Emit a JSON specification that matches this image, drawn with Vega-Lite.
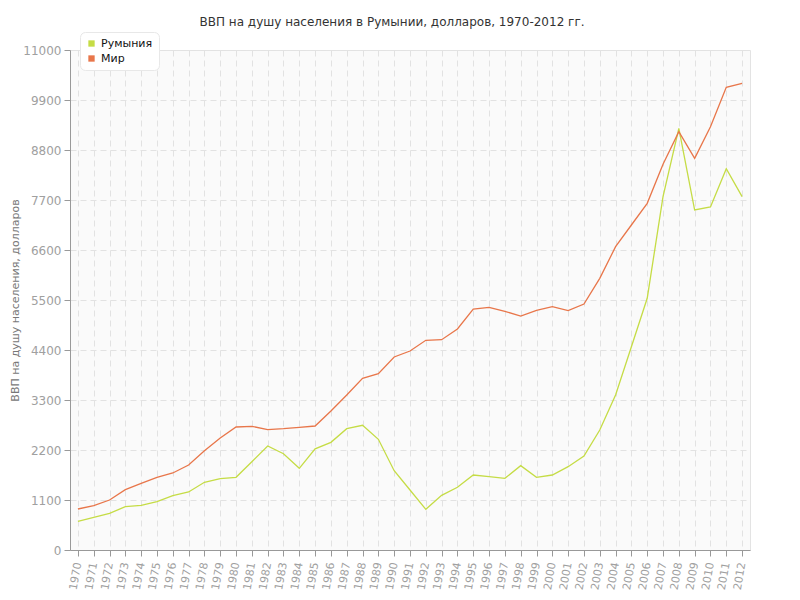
{
  "$schema": "https://vega.github.io/schema/vega-lite/v6.json",
  "autosize": "none",
  "width": 680,
  "height": 500,
  "padding": {"left": 70, "top": 50, "right": 50, "bottom": 50},
  "background": "white",
  "title": {
    "text": "ВВП на душу населения в Румынии, долларов, 1970-2012 гг.",
    "font": "DejaVu Sans",
    "fontSize": 12,
    "fontWeight": "normal",
    "color": "#333333",
    "offset": 3,
    "dx": -18
  },
  "config": {
    "view": {"fill": "#fafafa", "stroke": "#e3e3e3"},
    "font": "DejaVu Sans"
  },
  "data": {
    "values": [
      {"year": 1970, "country": "Румыния", "gdp": 631},
      {"year": 1971, "country": "Румыния", "gdp": 719},
      {"year": 1972, "country": "Румыния", "gdp": 807},
      {"year": 1973, "country": "Румыния", "gdp": 953},
      {"year": 1974, "country": "Румыния", "gdp": 983},
      {"year": 1975, "country": "Румыния", "gdp": 1063},
      {"year": 1976, "country": "Румыния", "gdp": 1195},
      {"year": 1977, "country": "Румыния", "gdp": 1276},
      {"year": 1978, "country": "Румыния", "gdp": 1489},
      {"year": 1979, "country": "Румыния", "gdp": 1569},
      {"year": 1980, "country": "Румыния", "gdp": 1599},
      {"year": 1981, "country": "Румыния", "gdp": 1943},
      {"year": 1982, "country": "Румыния", "gdp": 2288},
      {"year": 1983, "country": "Румыния", "gdp": 2119},
      {"year": 1984, "country": "Румыния", "gdp": 1797},
      {"year": 1985, "country": "Румыния", "gdp": 2225},
      {"year": 1986, "country": "Румыния", "gdp": 2369},
      {"year": 1987, "country": "Румыния", "gdp": 2669},
      {"year": 1988, "country": "Румыния", "gdp": 2743},
      {"year": 1989, "country": "Румыния", "gdp": 2435},
      {"year": 1990, "country": "Румыния", "gdp": 1745},
      {"year": 1991, "country": "Румыния", "gdp": 1320},
      {"year": 1992, "country": "Румыния", "gdp": 895},
      {"year": 1993, "country": "Румыния", "gdp": 1203},
      {"year": 1994, "country": "Румыния", "gdp": 1379},
      {"year": 1995, "country": "Румыния", "gdp": 1650},
      {"year": 1996, "country": "Румыния", "gdp": 1613},
      {"year": 1997, "country": "Румыния", "gdp": 1577},
      {"year": 1998, "country": "Румыния", "gdp": 1855},
      {"year": 1999, "country": "Румыния", "gdp": 1599},
      {"year": 2000, "country": "Румыния", "gdp": 1650},
      {"year": 2001, "country": "Румыния", "gdp": 1833},
      {"year": 2002, "country": "Румыния", "gdp": 2068},
      {"year": 2003, "country": "Румыния", "gdp": 2640},
      {"year": 2004, "country": "Румыния", "gdp": 3410},
      {"year": 2005, "country": "Румыния", "gdp": 4473},
      {"year": 2006, "country": "Румыния", "gdp": 5537},
      {"year": 2007, "country": "Румыния", "gdp": 7773},
      {"year": 2008, "country": "Румыния", "gdp": 9277},
      {"year": 2009, "country": "Румыния", "gdp": 7480},
      {"year": 2010, "country": "Румыния", "gdp": 7546},
      {"year": 2011, "country": "Румыния", "gdp": 8389},
      {"year": 2012, "country": "Румыния", "gdp": 7773},
      {"year": 1970, "country": "Мир", "gdp": 902},
      {"year": 1971, "country": "Мир", "gdp": 975},
      {"year": 1972, "country": "Мир", "gdp": 1100},
      {"year": 1973, "country": "Мир", "gdp": 1327},
      {"year": 1974, "country": "Мир", "gdp": 1467},
      {"year": 1975, "country": "Мир", "gdp": 1599},
      {"year": 1976, "country": "Мир", "gdp": 1694},
      {"year": 1977, "country": "Мир", "gdp": 1870},
      {"year": 1978, "country": "Мир", "gdp": 2185},
      {"year": 1979, "country": "Мир", "gdp": 2464},
      {"year": 1980, "country": "Мир", "gdp": 2706},
      {"year": 1981, "country": "Мир", "gdp": 2721},
      {"year": 1982, "country": "Мир", "gdp": 2647},
      {"year": 1983, "country": "Мир", "gdp": 2669},
      {"year": 1984, "country": "Мир", "gdp": 2699},
      {"year": 1985, "country": "Мир", "gdp": 2728},
      {"year": 1986, "country": "Мир", "gdp": 3058},
      {"year": 1987, "country": "Мир", "gdp": 3410},
      {"year": 1988, "country": "Мир", "gdp": 3777},
      {"year": 1989, "country": "Мир", "gdp": 3879},
      {"year": 1990, "country": "Мир", "gdp": 4246},
      {"year": 1991, "country": "Мир", "gdp": 4378},
      {"year": 1992, "country": "Мир", "gdp": 4613},
      {"year": 1993, "country": "Мир", "gdp": 4627},
      {"year": 1994, "country": "Мир", "gdp": 4862},
      {"year": 1995, "country": "Мир", "gdp": 5302},
      {"year": 1996, "country": "Мир", "gdp": 5339},
      {"year": 1997, "country": "Мир", "gdp": 5251},
      {"year": 1998, "country": "Мир", "gdp": 5148},
      {"year": 1999, "country": "Мир", "gdp": 5273},
      {"year": 2000, "country": "Мир", "gdp": 5353},
      {"year": 2001, "country": "Мир", "gdp": 5265},
      {"year": 2002, "country": "Мир", "gdp": 5412},
      {"year": 2003, "country": "Мир", "gdp": 5977},
      {"year": 2004, "country": "Мир", "gdp": 6673},
      {"year": 2005, "country": "Мир", "gdp": 7150},
      {"year": 2006, "country": "Мир", "gdp": 7627},
      {"year": 2007, "country": "Мир", "gdp": 8485},
      {"year": 2008, "country": "Мир", "gdp": 9203},
      {"year": 2009, "country": "Мир", "gdp": 8617},
      {"year": 2010, "country": "Мир", "gdp": 9313},
      {"year": 2011, "country": "Мир", "gdp": 10179},
      {"year": 2012, "country": "Мир", "gdp": 10267}
    ]
  },
  "mark": {"type": "line", "strokeWidth": 1.3},
  "encoding": {
    "x": {
      "field": "year",
      "type": "ordinal",
      "scale": {"type": "point", "padding": 0.5},
      "axis": {
        "title": null,
        "labelAngle": -80,
        "labelColor": "#a0a0a0",
        "labelFontSize": 11,
        "labelPadding": 6,
        "domainColor": "#999999",
        "tickColor": "#999999",
        "tickSize": 6,
        "grid": true,
        "gridColor": "#e2e2e2",
        "gridDash": [6, 4]
      }
    },
    "y": {
      "field": "gdp",
      "type": "quantitative",
      "scale": {"domain": [0, 11000], "nice": false},
      "axis": {
        "title": "ВВП на душу населения, долларов",
        "titleColor": "#777777",
        "titleFontSize": 11,
        "titleFontWeight": "normal",
        "titlePadding": 2,
        "values": [0, 1100, 2200, 3300, 4400, 5500, 6600, 7700, 8800, 9900, 11000],
        "format": "d",
        "labelColor": "#a0a0a0",
        "labelFontSize": 12,
        "labelPadding": 3,
        "domainColor": "#999999",
        "tickColor": "#999999",
        "tickSize": 6,
        "gridColor": "#e2e2e2",
        "gridDash": [6, 4]
      }
    },
    "color": {
      "field": "country",
      "type": "nominal",
      "scale": {"domain": ["Румыния", "Мир"], "range": ["#c5dc45", "#e8764a"]},
      "legend": {
        "title": null,
        "orient": "none",
        "legendX": 10,
        "legendY": -18,
        "symbolType": "square",
        "symbolSize": 40,
        "symbolStrokeWidth": 0,
        "labelFontSize": 11,
        "labelColor": "#111111",
        "rowPadding": 3,
        "fillColor": "white",
        "strokeColor": "#e8e8e8",
        "cornerRadius": 5,
        "padding": 6,
        "encode": {
          "symbols": {
            "update": {"fill": {"scale": "color", "field": "value"}, "opacity": {"value": 1}}
          }
        }
      }
    }
  }
}
